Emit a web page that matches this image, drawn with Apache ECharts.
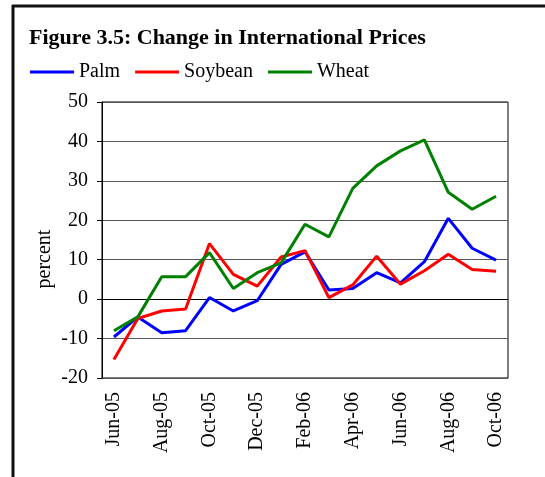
<!DOCTYPE html>
<html>
<head>
<meta charset="utf-8">
<script src="https://cdn.jsdelivr.net/npm/echarts@6/dist/echarts.min.js"></script>
<style>
  html, body { margin: 0; padding: 0; background: #fff; }
  #chart { width: 545px; height: 477px; }
</style>
</head>
<body>
<div id="chart"></div>
<script>
// monthly change, Jun-05 .. Oct-06
const months = ['Jun-05', 'Jul-05', 'Aug-05', 'Sep-05', 'Oct-05', 'Nov-05', 'Dec-05', 'Jan-06',
  'Feb-06', 'Mar-06', 'Apr-06', 'May-06', 'Jun-06', 'Jul-06', 'Aug-06', 'Sep-06', 'Oct-06'];
const palm = [-9.6, -4.5, -8.5, -8.0, 0.4, -3.0, -0.4, 8.8, 12.0, 2.3, 2.7, 6.7, 4.1, 9.5, 20.5, 12.9, 9.9];
const soybean = [-15.3, -4.9, -3.0, -2.5, 14.1, 6.3, 3.3, 10.7, 12.3, 0.4, 3.6, 10.9, 3.8, 7.2, 11.4, 7.5, 7.1];
const wheat = [-8.0, -4.5, 5.7, 5.7, 11.8, 2.7, 6.7, 9.2, 19.0, 15.8, 28.1, 33.8, 37.6, 40.4, 27.1, 22.8, 26.1];
const yTicks = { min: -20, max: 50, step: 10 };

const serif = '"Liberation Serif", "Times New Roman", serif';

const chart = echarts.init(document.getElementById('chart'));

function lineSeries(name, data, color) {
  return {
    name: name,
    type: 'line',
    data: data,
    symbol: 'none',
    lineStyle: { color: color, width: 3 },
    itemStyle: { color: color }
  };
}

chart.setOption({
  backgroundColor: '#fff',
  animation: false,
  title: {
    text: 'Figure 3.5: Change in International Prices',
    left: 29,
    top: 27,
    padding: 0,
    textStyle: { fontFamily: serif, fontWeight: 'bold', fontSize: 22, color: '#000' }
  },
  legend: {
    left: 30,
    top: 62,
    padding: 0,
    icon: 'rect',
    itemWidth: 44,
    itemHeight: 3,
    itemGap: 15,
    textStyle: { fontFamily: serif, fontSize: 20, color: '#000' },
    data: ['Palm', 'Soybean', 'Wheat']
  },
  grid: {
    left: 102,
    top: 102,
    right: 37,
    bottom: 99,
    show: true,
    borderColor: '#000',
    borderWidth: 1
  },
  xAxis: [
    {
      type: 'category',
      data: months,
      boundaryGap: true,
      axisLine: { onZero: true, lineStyle: { color: '#000', width: 1 } },
      axisTick: { interval: 1, length: 5, lineStyle: { color: '#000' } },
      axisLabel: { show: false }
    },
    {
      type: 'category',
      data: months,
      position: 'bottom',
      boundaryGap: true,
      axisLine: { show: false, onZero: false },
      axisTick: { show: false },
      axisLabel: {
        interval: 1,
        rotate: 90,
        margin: 14,
        fontFamily: serif,
        fontSize: 20,
        color: '#000'
      }
    }
  ],
  yAxis: {
    type: 'value',
    min: yTicks.min,
    max: yTicks.max,
    interval: yTicks.step,
    axisLine: { show: true, lineStyle: { color: '#000' } },
    axisTick: { show: true, length: 5, lineStyle: { color: '#000' } },
    axisLabel: { margin: 14, fontFamily: serif, fontSize: 20, color: '#000' },
    splitLine: { lineStyle: { color: '#555', width: 1 } }
  },
  graphic: [
    {
      type: 'text',
      x: 45,
      y: 259,
      rotation: Math.PI / 2,
      style: {
        text: 'percent',
        fontFamily: serif,
        fontSize: 20,
        fill: '#000',
        align: 'center',
        verticalAlign: 'middle'
      }
    },
    {
      type: 'line',
      shape: { x1: 13, y1: 5, x2: 13, y2: 477 },
      style: { stroke: '#111', lineWidth: 3 }
    },
    {
      type: 'line',
      shape: { x1: 12, y1: 6, x2: 545, y2: 6 },
      style: { stroke: '#111', lineWidth: 3 }
    }
  ],
  series: [
    lineSeries('Palm', palm, '#0000ff'),
    lineSeries('Soybean', soybean, '#ff0000'),
    lineSeries('Wheat', wheat, '#008000')
  ]
});
</script>
</body>
</html>
